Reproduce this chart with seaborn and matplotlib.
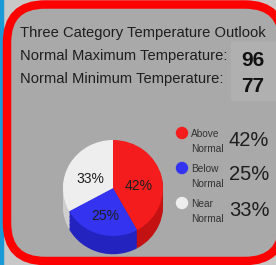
import numpy as np
import pandas as pd
import seaborn as sns
import matplotlib
matplotlib.use("Agg")
import matplotlib.pyplot as plt
from matplotlib import font_manager
from matplotlib.patches import FancyBboxPatch, Rectangle

# data
categories = ["Above\nNormal", "Below\nNormal", "Near\nNormal"]
percents = [42, 25, 33]
top_colors = ["#f41c1c", "#3434f0", "#eeeeee"]
side_colors = ["#c41212", "#2323c0", "#cfcfcf"]
title = "Three Category Temperature Outlook"
row_labels = ["Normal Maximum Temperature:", "Normal Minimum Temperature:"]
row_values = [96, 77]

sns.set_theme(style="white")
names = {f.name for f in font_manager.fontManager.ttflist}
narrow = "Liberation Sans Narrow" if "Liberation Sans Narrow" in names else "Liberation Sans"
plt.rcParams["font.family"] = [narrow, "DejaVu Sans"]
fs_head = 12 if narrow.endswith("Narrow") else 10.6

W, H = 276, 265
fig = plt.figure(figsize=(W / 100, H / 100), dpi=100, facecolor="#c8c8c8")

bg = fig.add_axes([0, 0, 1, 1])
bg.set_xlim(0, W)
bg.set_ylim(H, 0)
bg.axis("off")
bg.add_patch(Rectangle((0, 0), 3, H, color="#1a9ad6", zorder=0))
bg.add_patch(FancyBboxPatch((7, 4.5), 276, 256.5,
                            boxstyle="round,pad=0,rounding_size=38",
                            facecolor="#a9a9a9", edgecolor="#ff0000",
                            linewidth=6.1, zorder=1))
bg.add_patch(Rectangle((231, 42), 45, 58, color="#b0b0b0", zorder=2))

bg.text(20, 37, title, fontsize=fs_head, color="#1e1e1e", va="baseline", zorder=3)
for i, (lab, val) in enumerate(zip(row_labels, row_values)):
    bg.text(20, 60 + i * 23, lab, fontsize=fs_head, color="#1e1e1e", va="baseline", zorder=3)
    bg.text(253, 66 + i * 26, str(val), fontsize=15, fontweight="bold", color="#111111",
            ha="center", va="baseline", family=["Liberation Sans", "DejaVu Sans"], zorder=3)

# legend
leg = pd.DataFrame({"x": [182] * 3, "y": [133, 168, 203], "cat": categories})
sns.scatterplot(data=leg, x="x", y="y", hue="cat", palette=top_colors, s=80,
                linewidth=0, legend=False, ax=bg, zorder=4)
bg.set_xlim(0, W)
bg.set_ylim(H, 0)
bg.axis("off")
for (y, cat, p) in zip(leg["y"], categories, percents):
    top, bottom = cat.split("\n")
    bg.text(191, y + 1, top, fontsize=7.3, color="#333333", va="center", zorder=4)
    bg.text(191, y + 16, bottom, fontsize=7.3, color="#333333", va="center", zorder=4)
    bg.text(249, y + 7, f"{p}%", fontsize=14.5, color="#1e1e1e", ha="center", va="center", zorder=4)

# pie with fake 3d depth
cx, cy, rx, ry = 113, 188, 50, 48
xl, yl = (-1.2, 1.2), (-1.6, 1.2)
pw, ph = (xl[1] - xl[0]) * rx, (yl[1] - yl[0]) * ry
left = cx + xl[0] * rx
top_px = cy - yl[1] * ry
ax = fig.add_axes([left / W, (H - top_px - ph) / H, pw / W, ph / H])
depth = 0.38
for d in np.linspace(depth, 0.02, 14):
    ax.pie(percents, colors=side_colors, startangle=90, counterclock=False,
           center=(0, -d), wedgeprops=dict(linewidth=0))
_, texts = ax.pie(percents, colors=top_colors, startangle=90, counterclock=False,
                  labels=[f"{p}%" for p in percents], labeldistance=0.52,
                  textprops=dict(fontsize=10, color="#1e1e1e"),
                  wedgeprops=dict(linewidth=0))
for t in texts:
    x, y = t.get_position()
    t.set_position((x, y - 0.08))
    t.set_ha("center")
ax.set_xlim(*xl)
ax.set_ylim(*yl)
ax.set_aspect("auto")
ax.axis("off")

fig.savefig("out.png", dpi=100, facecolor=fig.get_facecolor())
